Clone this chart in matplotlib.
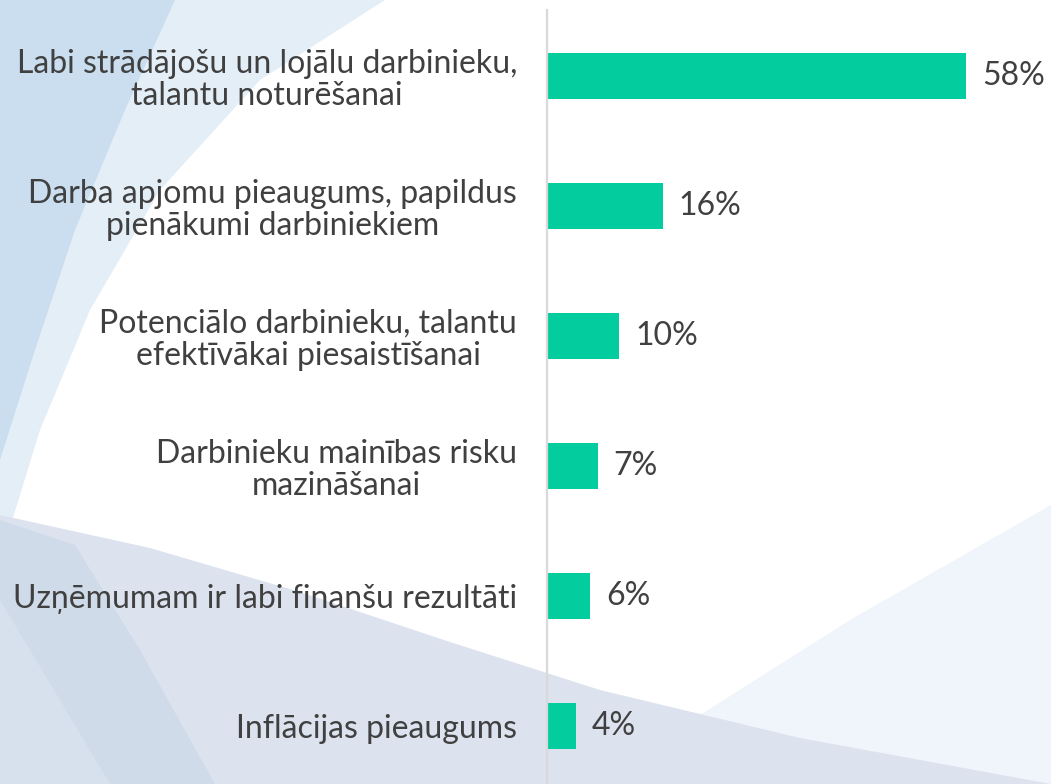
import matplotlib
matplotlib.use("Agg")
import matplotlib.pyplot as plt
from matplotlib.patches import Polygon
import numpy as np

categories = [
    "Labi strādājošu un lojālu darbinieku,\ntalantu noturēšanai",
    "Darba apjomu pieaugums, papildus\npienākumi darbiniekiem",
    "Potenciālo darbinieku, talantu\nefektīvākai piesaistīšanai",
    "Darbinieku mainības risku\nmazināšanai",
    "Uzņēmumam ir labi finanšu rezultāti",
    "Inflācijas pieaugums",
]
values = [58, 16, 10, 7, 6, 4]
value_labels = ["58%", "16%", "10%", "7%", "6%", "4%"]

plt.rcParams['font.family'] = ['Lato', 'DejaVu Sans']

W, H = 1051, 784
fig = plt.figure(figsize=(W / 100, H / 100), dpi=100)
fig.patch.set_facecolor("white")

# decorative background
bg = fig.add_axes([0, 0, 1, 1], zorder=0)
bg.set_xlim(0, W)
bg.set_ylim(H, 0)
bg.axis("off")

# top-left light band
edge = [(385, 0), (260, 80), (160, 190), (90, 310), (40, 430), (0, 560)]
bg.add_patch(Polygon([(0, 0)] + edge, closed=True, color="#e4eef7", lw=0))
edge2 = [(175, 0), (125, 110), (75, 230), (35, 350), (0, 460)]
bg.add_patch(Polygon([(0, 0)] + edge2, closed=True, color="#cadeef", lw=0))

# bottom-right faint area
bg.add_patch(Polygon([(640, 784), (700, 715), (850, 620), (1051, 505), (1051, 784)],
                     closed=True, color="#f0f5fb", lw=0))
# bottom band
band = [(0, 515), (150, 548), (300, 592), (450, 642), (600, 690), (800, 738), (1051, 784)]
bg.add_patch(Polygon(band + [(0, 784)], closed=True, color="#dce3ef", lw=0))
# darker wedges
bg.add_patch(Polygon([(0, 520), (75, 545), (140, 650), (215, 784), (0, 784)],
                     closed=True, color="#d0dbea", lw=0))
bg.add_patch(Polygon([(0, 600), (60, 700), (110, 784), (0, 784)],
                     closed=True, color="#d7e0ed", lw=0))

# main chart axes: x from 547 px to right edge, y from 10 px to bottom
left = 547 / W
ax = fig.add_axes([left, 0, 1 - left, (H - 10) / H], zorder=1)
ax.patch.set_alpha(0)
px_per = (966 - 547) / 58.0
ax.set_xlim(0, (W - 547) / px_per)
ypos = np.arange(len(categories))
ax.set_ylim(5 + (784 - 726) / 130.0, -(76 - 10) / 130.0)

ax.barh(ypos, values, height=46 / 130.0, color="#03cc9f", zorder=2)

for y, v, lab in zip(ypos, values, value_labels):
    ax.text(v + 16 / px_per, y, lab, va="center", ha="left",
            fontsize=23, color="#404040")

ax.set_yticks(ypos)
ax.set_yticklabels(categories, fontsize=23, color="#404040", ha="right",
                   linespacing=1.1, multialignment="center")
ax.tick_params(axis="y", length=0, pad=21.5)
ax.set_xticks([])
for s in ["top", "right", "bottom"]:
    ax.spines[s].set_visible(False)
ax.spines["left"].set_color("#d9d9d9")
ax.spines["left"].set_linewidth(1.6)

fig.savefig("out.png", dpi=100, facecolor="white")
